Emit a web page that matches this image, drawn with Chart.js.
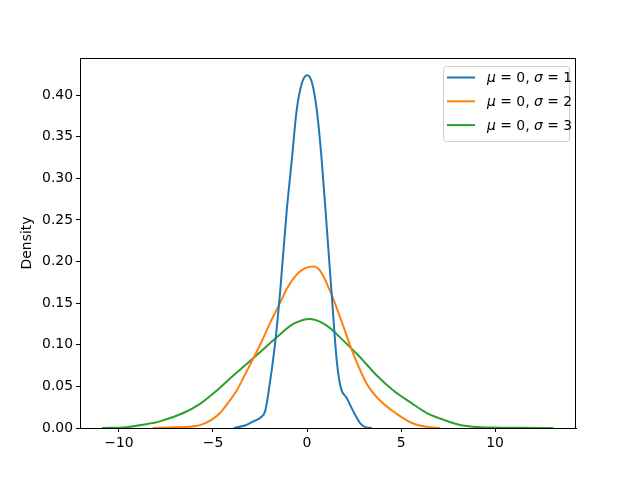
<!DOCTYPE html>
<html>
<head>
<meta charset="utf-8">
<script src="https://cdn.jsdelivr.net/npm/chart.js@4.4.1/dist/chart.umd.min.js"></script>
<style>
  body { margin: 0; background: #fff; }
  canvas { display: block; }
</style>
</head>
<body>
<canvas id="chart" width="640" height="480"></canvas>
<script>
// KDE curves
let labels = ['\u03bc = 0, \u03c3 = 1', '\u03bc = 0, \u03c3 = 2', '\u03bc = 0, \u03c3 = 3'];
let sigmas = ['1', '2', '3'];

let x1 = [-3.9, -3.3, -2.85, -2.45, -2.23, -2.06, -1.70, -1.44, -1.08, -0.81, -0.55, -0.28, 0.0, 0.25, 0.52, 0.78, 1.05, 1.31, 1.58, 1.79, 2.11, 2.46, 2.82, 3.1, 3.44];
let y1 = [0, 0.003, 0.008, 0.013, 0.020, 0.041, 0.101, 0.161, 0.261, 0.322, 0.382, 0.414, 0.424, 0.416, 0.382, 0.322, 0.241, 0.161, 0.081, 0.049, 0.036, 0.020, 0.006, 0.001, 0];

let x2 = [-8.2, -7.0, -6.0, -5.5, -5.0, -4.63, -4.27, -3.74, -3.39, -2.85, -2.41, -1.97, -1.44, -1.08, -0.6, -0.2, 0.34, 0.69, 1.22, 1.76, 2.46, 3.18, 3.88, 4.77, 5.4, 5.83, 6.5, 7.07];
let y2 = [0, 0.0008, 0.002, 0.005, 0.011, 0.018, 0.028, 0.045, 0.060, 0.084, 0.104, 0.126, 0.150, 0.167, 0.183, 0.191, 0.194, 0.189, 0.165, 0.133, 0.089, 0.053, 0.033, 0.017, 0.008, 0.004, 0.001, 0];

let x3 = [-10.9, -9.6, -8.7, -7.82, -6.58, -5.69, -4.80, -3.92, -2.5, -1.61, -0.73, 0.16, 1.05, 1.93, 2.82, 3.71, 4.59, 5.48, 6.37, 7.25, 8.14, 9.03, 9.9, 11.5, 13.1];
let y3 = [0, 0.001, 0.004, 0.008, 0.018, 0.029, 0.045, 0.063, 0.091, 0.109, 0.125, 0.131, 0.123, 0.105, 0.085, 0.063, 0.045, 0.031, 0.018, 0.010, 0.0036, 0.0012, 0.0005, 0.0002, 0];

let xTicks = [-10, -5, 0, 5, 10];
let yTicks = [0, 0.05, 0.10, 0.15, 0.20, 0.25, 0.30, 0.35, 0.40];

var colors = ['#1f77b4', '#ff7f0e', '#2ca02c'];
var FONT = 'DejaVu Sans';

function pts(xs, ys) {
  return xs.map(function (x, i) { return { x: x, y: ys[i] }; });
}

// box around the axes + legend inside the plot, like matplotlib
var framePlugin = {
  id: 'frame',
  afterDraw: function (chart) {
    var ctx = chart.ctx, a = chart.chartArea;
    ctx.save();
    ctx.strokeStyle = '#000';
    ctx.lineWidth = 1;
    ctx.strokeRect(a.left + 0.5, a.top + 0.5, a.right - a.left - 1, a.bottom - a.top);

    // legend
    var bx = 443, by = 66, bw = 126, bh = 75;
    ctx.fillStyle = 'rgba(255,255,255,0.8)';
    ctx.strokeStyle = '#cccccc';
    ctx.beginPath();
    ctx.roundRect(bx + 0.5, by + 0.5, bw, bh, 3);
    ctx.fill();
    ctx.stroke();

    ctx.textBaseline = 'middle';
    chart.data.datasets.forEach(function (ds, i) {
      var ly = 77.5 + i * 23.8;
      ctx.strokeStyle = ds.borderColor;
      ctx.lineWidth = 2;
      ctx.beginPath();
      ctx.moveTo(447, ly);
      ctx.lineTo(475, ly);
      ctx.stroke();

      var parts = [['\u03bc', true], [' = 0, ', false], ['\u03c3', true], [' = ' + sigmas[i], false]];
      var tx = 487;
      ctx.fillStyle = '#000';
      parts.forEach(function (p) {
        ctx.font = (p[1] ? 'oblique ' : '') + '13.9px "' + FONT + '"';
        ctx.fillText(p[0], tx, ly + 1);
        tx += ctx.measureText(p[0]).width;
      });
    });
    ctx.restore();
  }
};

var myChart = document.getElementById('chart').getContext('2d');
var chart = new Chart(myChart, {
  type: 'line',
  data: {
    datasets: [
      { label: labels[0], data: pts(x1, y1), borderColor: colors[0] },
      { label: labels[1], data: pts(x2, y2), borderColor: colors[1] },
      { label: labels[2], data: pts(x3, y3), borderColor: colors[2] }
    ].map(function (d) {
      d.borderWidth = 2;
      d.pointRadius = 0;
      d.fill = false;
      d.cubicInterpolationMode = 'monotone';
      return d;
    })
  },
  options: {
    responsive: false,
    animation: false,
    layout: { padding: { left: 0, right: 64, top: 58, bottom: 0 } },
    plugins: {
      legend: { display: false },
      tooltip: { enabled: false }
    },
    scales: {
      x: {
        type: 'linear',
        min: -12.07,
        max: 14.3,
        afterBuildTicks: function (s) { s.ticks = xTicks.map(function (v) { return { value: v }; }); },
        afterFit: function (s) { s.height = 52; },
        grid: { drawOnChartArea: false, drawTicks: true, tickLength: 4, tickColor: '#000' },
        border: { color: '#000', width: 1 },
        ticks: {
          color: '#000',
          padding: 3,
          maxRotation: 0,
          font: { family: FONT, size: 13.9 },
          callback: function (v) { return v < 0 ? '\u2212' + Math.abs(v) : String(v); }
        }
      },
      y: {
        min: 0,
        max: 0.4446,
        afterBuildTicks: function (s) { s.ticks = yTicks.map(function (v) { return { value: v }; }); },
        afterFit: function (s) { s.width = 80; },
        grid: { drawOnChartArea: false, drawTicks: true, tickLength: 4, tickColor: '#000' },
        border: { color: '#000', width: 1 },
        title: {
          display: true,
          text: 'Density',
          color: '#000',
          font: { family: FONT, size: 13.9 },
          padding: { top: 19, bottom: 0 }
        },
        ticks: {
          color: '#000',
          padding: 3,
          font: { family: FONT, size: 13.9 },
          callback: function (v) { return v.toFixed(2); }
        }
      }
    }
  },
  plugins: [framePlugin]
});
</script>
</body>
</html>
